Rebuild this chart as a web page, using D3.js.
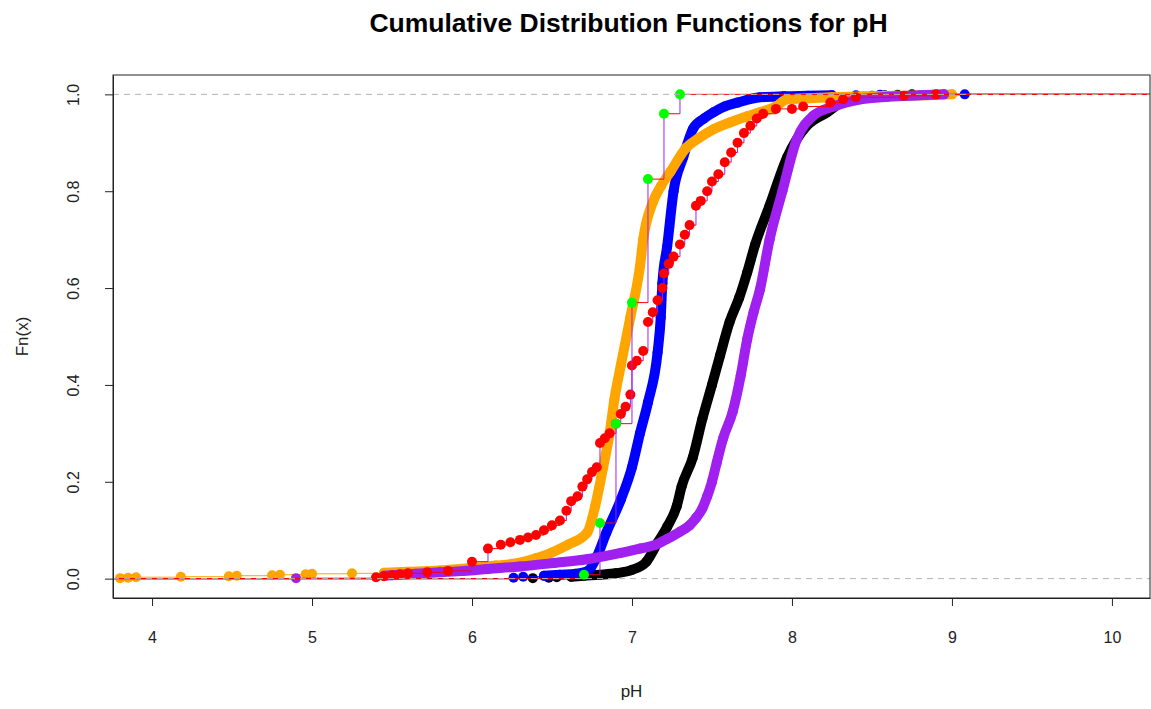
<!DOCTYPE html>
<html>
<head>
<meta charset="utf-8">
<script src="https://cdn.jsdelivr.net/npm/d3@7"></script>
<style>
  body { margin: 0; background: #fff; }
  text { font-family: "Liberation Sans", Arial, sans-serif; }
</style>
</head>
<body>
<script>
// values: knots (pH) and ecdf heights
const blackX = [6.62, 6.70, 6.80, 6.90, 7.00, 7.09, 7.16, 7.22, 7.28, 7.31, 7.38, 7.44, 7.50, 7.55, 7.61, 7.67, 7.72, 7.77, 7.86, 7.97, 8.09, 8.22, 8.34, 8.42];
const blackF = [0.004, 0.006, 0.008, 0.011, 0.018, 0.035, 0.074, 0.107, 0.15, 0.19, 0.25, 0.33, 0.40, 0.46, 0.53, 0.58, 0.632, 0.69, 0.77, 0.87, 0.934, 0.963, 0.99, 0.995];
const blackLooseX = [6.38, 6.48, 6.53, 8.50, 8.58, 8.66, 8.75];
const blackLooseF = [0.001, 0.002, 0.003, 0.997, 0.998, 0.999, 1.0];

const blueX = [6.45, 6.55, 6.65, 6.72, 6.78, 6.84, 6.93, 7.00, 7.05, 7.10, 7.16, 7.18, 7.19, 7.22, 7.26, 7.32, 7.38, 7.45, 7.51, 7.58, 7.66, 7.80, 7.95, 8.10, 8.25];
const blueF = [0.006, 0.008, 0.010, 0.015, 0.045, 0.095, 0.163, 0.23, 0.30, 0.364, 0.467, 0.54, 0.61, 0.686, 0.80, 0.87, 0.928, 0.95, 0.963, 0.975, 0.983, 0.994, 0.996, 0.997, 0.998];
const blueLooseX = [6.26, 6.32, 8.40, 8.55, 9.08];
const blueLooseF = [0.002, 0.004, 0.998, 0.999, 1.0];

const orangeX = [5.45, 5.60, 5.80, 6.00, 6.15, 6.30, 6.40, 6.50, 6.60, 6.72, 6.77, 6.82, 6.86, 6.89, 6.93, 6.99, 7.05, 7.07, 7.13, 7.18, 7.24, 7.34, 7.42, 7.51, 7.62, 7.72, 7.80, 7.90, 7.97, 8.10, 8.25, 8.45, 8.65, 8.85, 9.00];
const orangeF = [0.012, 0.014, 0.017, 0.022, 0.027, 0.033, 0.042, 0.054, 0.07, 0.095, 0.15, 0.23, 0.30, 0.37, 0.44, 0.54, 0.645, 0.70, 0.777, 0.81, 0.84, 0.89, 0.91, 0.928, 0.943, 0.955, 0.963, 0.975, 0.99, 0.992, 0.994, 0.996, 0.997, 0.998, 1.0];
const orangeLooseX = [3.80, 3.85, 3.90, 4.18, 4.48, 4.53, 4.75, 4.80, 4.96, 5.00, 5.25];
const orangeLooseF = [0.001, 0.002, 0.003, 0.004, 0.005, 0.006, 0.007, 0.008, 0.009, 0.010, 0.011];

const purpleX = [5.45, 5.55, 5.65, 5.80, 5.95, 6.10, 6.30, 6.50, 6.72, 6.93, 7.05, 7.15, 7.22, 7.30, 7.36, 7.40, 7.44, 7.47, 7.50, 7.53, 7.57, 7.63, 7.68, 7.72, 7.76, 7.80, 7.86, 7.94, 8.03, 8.13, 8.26, 8.43, 8.60, 8.80, 8.95];
const purpleF = [0.006, 0.008, 0.010, 0.013, 0.016, 0.020, 0.025, 0.032, 0.040, 0.053, 0.062, 0.070, 0.082, 0.097, 0.11, 0.125, 0.145, 0.17, 0.20, 0.24, 0.29, 0.345, 0.42, 0.494, 0.55, 0.597, 0.70, 0.80, 0.907, 0.955, 0.975, 0.99, 0.995, 0.998, 1.0];
const purpleLooseX = [4.90];
const purpleLooseF = [0.001];

const redLooseX = [5.40, 5.45, 5.50, 5.55, 5.60, 5.72, 5.85, 6.00, 6.10, 6.18, 6.24, 6.30, 6.35, 6.40, 6.45, 6.50, 6.55, 6.59, 6.62, 6.66, 6.69, 6.72, 6.75, 6.78, 6.80, 6.83, 6.86, 6.90, 6.93, 6.96, 6.99, 7.00, 7.03, 7.07, 7.10, 7.13, 7.16, 7.19, 7.20, 7.23, 7.26, 7.30, 7.33, 7.36, 7.40, 7.43, 7.47, 7.50, 7.54, 7.58, 7.62, 7.66, 7.70, 7.74, 7.78, 7.82, 7.90, 8.00, 8.07, 8.24, 8.32, 8.40, 8.70, 8.90];
const redLooseF = [0.003, 0.005, 0.007, 0.009, 0.011, 0.013, 0.016, 0.035, 0.062, 0.07, 0.075, 0.08, 0.085, 0.09, 0.10, 0.11, 0.12, 0.14, 0.16, 0.17, 0.19, 0.205, 0.22, 0.23, 0.28, 0.29, 0.30, 0.32, 0.34, 0.355, 0.38, 0.44, 0.45, 0.47, 0.53, 0.55, 0.575, 0.60, 0.63, 0.65, 0.665, 0.69, 0.71, 0.73, 0.77, 0.78, 0.80, 0.82, 0.835, 0.86, 0.88, 0.90, 0.92, 0.935, 0.95, 0.96, 0.97, 0.97, 0.975, 0.983, 0.99, 0.994, 0.997, 1.0];

const greenLooseX = [6.7, 6.8, 6.9, 7.0, 7.1, 7.2, 7.3];
const greenLooseF = [0.008, 0.115, 0.32, 0.57, 0.825, 0.96, 1.0];

const xTicks = [4, 5, 6, 7, 8, 9, 10];
const yTicks = [0, 0.2, 0.4, 0.6, 0.8, 1.0];

const zip = (xs, fs, dense) => xs.map((x, i) => ({x: x, f: fs[i], dense: dense}));

// draw order as in the original: later ones on top
const series = [
    {col: "#000000", hor: "#000000", vert: "#000000", body: zip(blackX, blackF, true), loose: zip(blackLooseX, blackLooseF, false)},
    {col: "#0000FF", hor: "#0000FF", vert: "#0000FF", body: zip(blueX, blueF, true), loose: zip(blueLooseX, blueLooseF, false)},
    {col: "#FFA500", hor: "#FFA500", vert: "#FFA500", body: zip(orangeX, orangeF, true), loose: zip(orangeLooseX, orangeLooseF, false)},
    {col: "#A020F0", hor: "#A020F0", vert: "#A020F0", body: zip(purpleX, purpleF, true), loose: zip(purpleLooseX, purpleLooseF, false)},
    {col: "#FF0000", hor: "#FF0000", vert: "#A020F0", body: [], loose: zip(redLooseX, redLooseF, false)},
    {col: "#00FF00", hor: "#FF0000", vert: "#A020F0", body: [], loose: zip(greenLooseX, greenLooseF, false)}
];

const width = 1151, height = 709;
const plot = {left: 113, right: 1150, top: 75, bottom: 598};

const svg = d3.select("body").append("svg")
    .attr("width", width)
    .attr("height", height);

const x = d3.scaleLinear().domain([3.756, 10.238]).range([plot.left, plot.right]);
const y = d3.scaleLinear().domain([-0.04, 1.04]).range([plot.bottom, plot.top]);

const r = 5;

series.forEach(s => {
    const pts = s.body.concat(s.loose).sort((a, b) => a.x - b.x);
    const n = pts.length;
    const g = svg.append("g");

    // step function segments (inside the dense band they are hidden anyway)
    let hs = [], vs = [];
    hs.push({x1: x.domain()[0], x2: pts[0].x, f: 0});
    vs.push({x: pts[0].x, f1: 0, f2: pts[0].f});
    for (let i = 0; i < n - 1; i++) {
        if (pts[i].dense && pts[i + 1].dense) continue;
        hs.push({x1: pts[i].x, x2: pts[i + 1].x, f: pts[i].f});
        vs.push({x: pts[i + 1].x, f1: pts[i].f, f2: pts[i + 1].f});
    }
    hs.push({x1: pts[n - 1].x, x2: x.domain()[1], f: pts[n - 1].f});

    g.selectAll(".h").data(hs).join("line")
        .attr("x1", d => x(d.x1)).attr("x2", d => x(d.x2))
        .attr("y1", d => y(d.f)).attr("y2", d => y(d.f))
        .attr("stroke", s.hor).attr("stroke-width", 1);
    g.selectAll(".v").data(vs).join("line")
        .attr("x1", d => x(d.x)).attr("x2", d => x(d.x))
        .attr("y1", d => y(d.f1)).attr("y2", d => y(d.f2))
        .attr("stroke", s.vert).attr("stroke-width", 1);

    // dense part: points merge into a thick band
    if (s.body.length) {
        g.append("path")
            .datum(s.body)
            .attr("d", d3.line().x(d => x(d.x)).y(d => y(d.f)).curve(d3.curveMonotoneX))
            .attr("fill", "none")
            .attr("stroke", s.col)
            .attr("stroke-width", 2 * r)
            .attr("stroke-linecap", "round")
            .attr("stroke-linejoin", "round");
    }

    g.selectAll("circle").data(pts).join("circle")
        .attr("cx", d => x(d.x))
        .attr("cy", d => y(d.f))
        .attr("r", r)
        .attr("fill", s.col);
});

// 0 and 1 reference lines
svg.selectAll(".ref").data([0, 1]).join("line")
    .attr("x1", plot.left).attr("x2", plot.right)
    .attr("y1", d => y(d)).attr("y2", d => y(d))
    .attr("stroke", "#B3B3B3")
    .attr("stroke-width", 1)
    .attr("stroke-dasharray", "6,5");

// box
svg.append("rect")
    .attr("x", plot.left).attr("y", plot.top)
    .attr("width", plot.right - plot.left)
    .attr("height", plot.bottom - plot.top)
    .attr("fill", "none")
    .attr("stroke", "#222")
    .attr("stroke-width", 1);

// axes
const xAxis = svg.append("g")
    .attr("transform", `translate(0, ${plot.bottom})`)
    .call(d3.axisBottom(x).tickValues(xTicks).tickFormat(d3.format("d")).tickSize(8).tickSizeOuter(0).tickPadding(26));
const yAxis = svg.append("g")
    .attr("transform", `translate(${plot.left}, 0)`)
    .call(d3.axisLeft(y).tickValues(yTicks).tickFormat(d3.format(".1f")).tickSize(8).tickSizeOuter(0));

[xAxis, yAxis].forEach(a => {
    a.select(".domain").attr("stroke", "#222");
    a.selectAll(".tick line").attr("stroke", "#222");
    a.selectAll("text")
        .attr("font-size", 16)
        .attr("fill", "#222")
        .attr("font-family", "Liberation Sans, Arial, sans-serif");
});

yAxis.selectAll(".tick text")
    .attr("x", null).attr("dy", null)
    .attr("text-anchor", "middle")
    .attr("transform", "translate(-40, 0) rotate(-90)")
    .attr("dy", "0.35em");

// labels
svg.append("text")
    .attr("x", (plot.left + plot.right) / 2 - 3)
    .attr("y", 32)
    .attr("text-anchor", "middle")
    .attr("font-size", 26.5)
    .attr("font-weight", "bold")
    .text("Cumulative Distribution Functions for pH");

svg.append("text")
    .attr("x", (plot.left + plot.right) / 2)
    .attr("y", 697)
    .attr("text-anchor", "middle")
    .attr("font-size", 17)
    .attr("fill", "#222")
    .text("pH");

svg.append("text")
    .attr("transform", `translate(28, ${(plot.top + plot.bottom) / 2}) rotate(-90)`)
    .attr("text-anchor", "middle")
    .attr("font-size", 17)
    .attr("fill", "#222")
    .text("Fn(x)");
</script>
</body>
</html>
